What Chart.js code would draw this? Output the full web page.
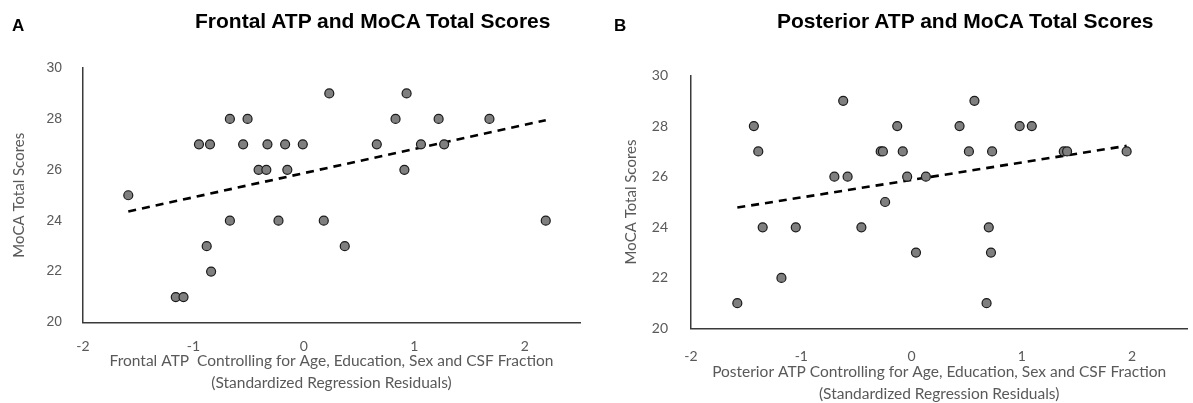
<!DOCTYPE html>
<html><head><meta charset="utf-8">
<script src="https://cdn.jsdelivr.net/npm/chart.js@4"></script>
<style>
body{margin:0;width:1193px;height:403px;overflow:hidden;background:#fff;position:relative;font-family:"Liberation Sans",Arial,sans-serif}
canvas{position:absolute;top:0}
.t{position:absolute;font-weight:bold;font-size:21px;line-height:24px;color:#000;white-space:nowrap}
.l{position:absolute;font-weight:bold;font-size:17px;line-height:19px;color:#000}
</style></head><body>
<canvas id="a" width="600" height="403" style="left:0"></canvas>
<canvas id="b" width="593" height="403" style="left:600px"></canvas>
<div class="l" style="left:12px;top:16px">A</div>
<div class="t" style="left:195px;top:9px">Frontal ATP and MoCA Total Scores</div>
<div class="l" style="left:614px;top:16px">B</div>
<div class="t" style="left:777px;top:9px">Posterior ATP and MoCA Total Scores</div>
<script>
// Panel A data
const frontalX = [-1.59,-1.16,-1.09,-0.95,-0.85,-0.88,-0.84,-0.67,-0.51,-0.55,-0.67,-0.41,-0.34,-0.33,-0.17,-0.15,-0.23,-0.01,0.18,0.23,0.37,0.93,0.83,1.22,1.68,0.66,1.06,1.27,0.91,2.19];
const frontalY = [25,21,21,27,27,23,22,28,28,27,24,26,26,27,27,26,24,27,24,29,23,29,28,28,28,27,27,27,26,24];
const frontalTrendX = [-1.59, 2.19];
const frontalTrendY = [24.36, 27.95];
// Panel B data
const posteriorX = [-1.58,-1.43,-1.39,-1.35,-1.18,-1.05,-0.62,-0.70,-0.58,-0.455,-0.28,-0.26,-0.24,-0.13,-0.08,-0.04,0.04,0.13,0.435,0.57,0.52,0.73,0.98,1.09,1.38,1.41,1.95,0.70,0.72,0.68];
const posteriorY = [21,28,27,24,22,24,29,26,26,24,27,27,25,28,27,26,23,26,28,29,27,27,28,28,27,27,27,24,23,21];
const posteriorTrendX = [-1.58, 1.95];
const posteriorTrendY = [24.78, 27.22];
// Tick labels
const xTickValues = [-2,-1,0,1,2];
const yTickValues = [20,22,24,26,28,30];
const yTitle = 'MoCA Total Scores';
const frontalXTitle = ['Frontal ATP  Controlling for Age, Education, Sex and CSF Fraction','(Standardized Regression Residuals)'];
const posteriorXTitle = ['Posterior ATP Controlling for Age, Education, Sex and CSF Fraction','(Standardized Regression Residuals)'];

const pts = (xs, ys) => xs.map((x, i) => ({x, y: ys[i]}));
const gray = '#595959';
const calibri = 'Lato, "Open Sans", sans-serif';
const arial = '"Liberation Sans", Arial, sans-serif';

function makeChart(id, xs, ys, tx, ty, xTitle, cfg) {
  return new Chart(document.getElementById(id), {
    data: {
      datasets: [
        {type: 'scatter', data: pts(xs, ys), pointRadius: 4.5, pointHoverRadius: 4.5,
         backgroundColor: '#7f7f7f', borderColor: '#1a1a1a', borderWidth: 1.2, order: 1},
        {type: 'line', data: pts(tx, ty), borderColor: '#000', borderWidth: 2.6,
         borderDash: [8, 6], pointRadius: 0, fill: false, order: 2}
      ]
    },
    options: {
      responsive: false, animation: false, devicePixelRatio: 1,
      layout: {padding: {top: cfg.top, right: cfg.right, left: 0, bottom: 0}},
      plugins: {legend: {display: false}, tooltip: {enabled: false}},
      scales: {
        x: {
          type: 'linear', min: -2, max: 2.5,
          grid: {display: false},
          border: {display: true, color: '#3a3a3a', width: 1.5},
          afterBuildTicks: s => { s.ticks = xTickValues.map(v => ({value: v})); },
          afterFit: s => { s.height = cfg.xH; },
          ticks: {color: gray, font: {family: calibri, size: 14}, padding: cfg.xPad},
          title: {display: true, text: xTitle, color: gray, font: {family: calibri, size: 15.5, lineHeight: 1.42},
                  padding: {top: 0, bottom: cfg.xTitlePad}}
        },
        y: {
          type: 'linear', min: 20, max: 30,
          grid: {display: false},
          border: {display: true, color: '#3a3a3a', width: 1.5},
          afterBuildTicks: s => { s.ticks = yTickValues.map(v => ({value: v})); },
          afterFit: s => { s.width = cfg.yW; },
          ticks: {color: gray, font: {family: cfg.yFont, size: 14}, padding: cfg.yPad},
          title: {display: true, text: yTitle, color: gray, font: {family: calibri, size: 15},
                  padding: {top: cfg.yTitlePad, bottom: 0}}
        }
      }
    }
  });
}

makeChart('a', frontalX, frontalY, frontalTrendX, frontalTrendY, frontalXTitle,
  {top: 68, right: 20, xH: 80.5, yW: 83, xPad: 8, xTitlePad: 9, yPad: 13, yTitlePad: 10, yFont: arial});
makeChart('b', posteriorX, posteriorY, posteriorTrendX, posteriorTrendY, posteriorXTitle,
  {top: 75.5, right: 1, xH: 74.5, yW: 91, xPad: 12, xTitlePad: -2, yPad: 15, yTitlePad: 22, yFont: calibri});
</script>
</body></html>
